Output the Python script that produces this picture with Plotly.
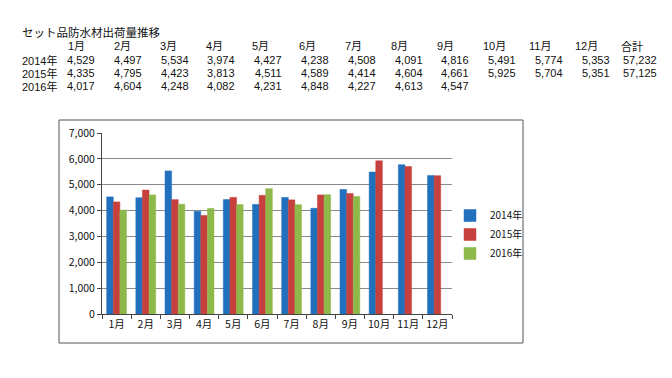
import plotly.graph_objects as go

title_text = "セット品防水材出荷量推移"
months = ["1月", "2月", "3月", "4月", "5月", "6月", "7月", "8月", "9月", "10月", "11月", "12月"]
total_label = "合計"
years = ["2014年", "2015年", "2016年"]
v2014 = [4529, 4497, 5534, 3974, 4427, 4238, 4508, 4091, 4816, 5491, 5774, 5353]
v2015 = [4335, 4795, 4423, 3813, 4511, 4589, 4414, 4604, 4661, 5925, 5704, 5351]
v2016 = [4017, 4604, 4248, 4082, 4231, 4848, 4227, 4613, 4547]
totals = [57232, 57125, None]
colors = ["#2170BE", "#C6403E", "#8EB84A"]

W, H = 672, 378
PL, PR, PT, PB = 102, 452, 133, 314
FONT = "Noto Sans CJK JP"
TFONT = "Liberation Sans, Noto Sans CJK JP"


def px(x):
    return (x - PL) / (PR - PL)


def py(y):
    return (PB - y) / (PB - PT)


fig = go.Figure()
for name, vals, col in zip(years, [v2014, v2015, v2016], colors):
    fig.add_trace(go.Bar(
        x=months[:len(vals)], y=vals, name=name,
        marker=dict(color=col, line=dict(color=col, width=0.5)),
    ))

ann = []
ann.append(dict(text=title_text, x=px(20), y=py(32), xanchor="left",
                font=dict(family=FONT, size=11.5, color="#111")))
for i, m in enumerate(months + [total_label]):
    ann.append(dict(text=m, x=px(66 + 46.1 * i), y=py(46), xanchor="left"))
row_y = [60, 73, 86]
for r, (name, vals, tot) in enumerate(zip(years, [v2014, v2015, v2016], totals)):
    ann.append(dict(text=name, x=px(20), y=py(row_y[r]), xanchor="left"))
    cells = list(vals) + [None] * (12 - len(vals)) + [tot]
    for i, v in enumerate(cells):
        if v is None:
            continue
        ann.append(dict(text=f"{v:,}", x=px(97 + 46.8 * i), y=py(row_y[r]), xanchor="right"))
for a in ann:
    a.update(xref="paper", yref="paper", yanchor="middle", showarrow=False)
    if "font" not in a:
        a["font"] = dict(family=TFONT, size=11, color="#111")

fig.update_layout(
    width=W, height=H,
    margin=dict(l=PL, r=W - PR, t=PT, b=H - PB, autoexpand=False),
    paper_bgcolor="white", plot_bgcolor="white",
    barmode="group", bargap=0.32, bargroupgap=0,
    font=dict(family=FONT, size=10, color="#111"),
    annotations=ann,
    showlegend=True,
    legend=dict(x=px(450), y=py(201), xanchor="left", yanchor="top",
                font=dict(family=FONT, size=10, color="#111"),
                bgcolor="rgba(0,0,0,0)", itemwidth=30, tracegroupgap=0),
    shapes=[dict(type="rect", xref="paper", yref="paper",
                 x0=px(59), x1=px(523), y0=py(343), y1=py(120),
                 line=dict(color="#555", width=1), layer="below")],
)
fig.update_yaxes(range=[0, 7000], dtick=1000, tickformat=",", gridcolor="#8a8a8a",
                 gridwidth=1, showline=True, linecolor="#444", ticks="outside",
                 ticklen=4, tickcolor="#444", tickfont=dict(size=10.5), zeroline=False)
fig.update_xaxes(showline=True, linecolor="#444", ticks="outside", ticklen=4,
                 tickcolor="#444", tickson="boundaries", tickangle=0,
                 tickfont=dict(size=10.5))

fig.write_html("out.html", config={"displayModeBar": False},
               post_script="document.body.style.margin='0';")
